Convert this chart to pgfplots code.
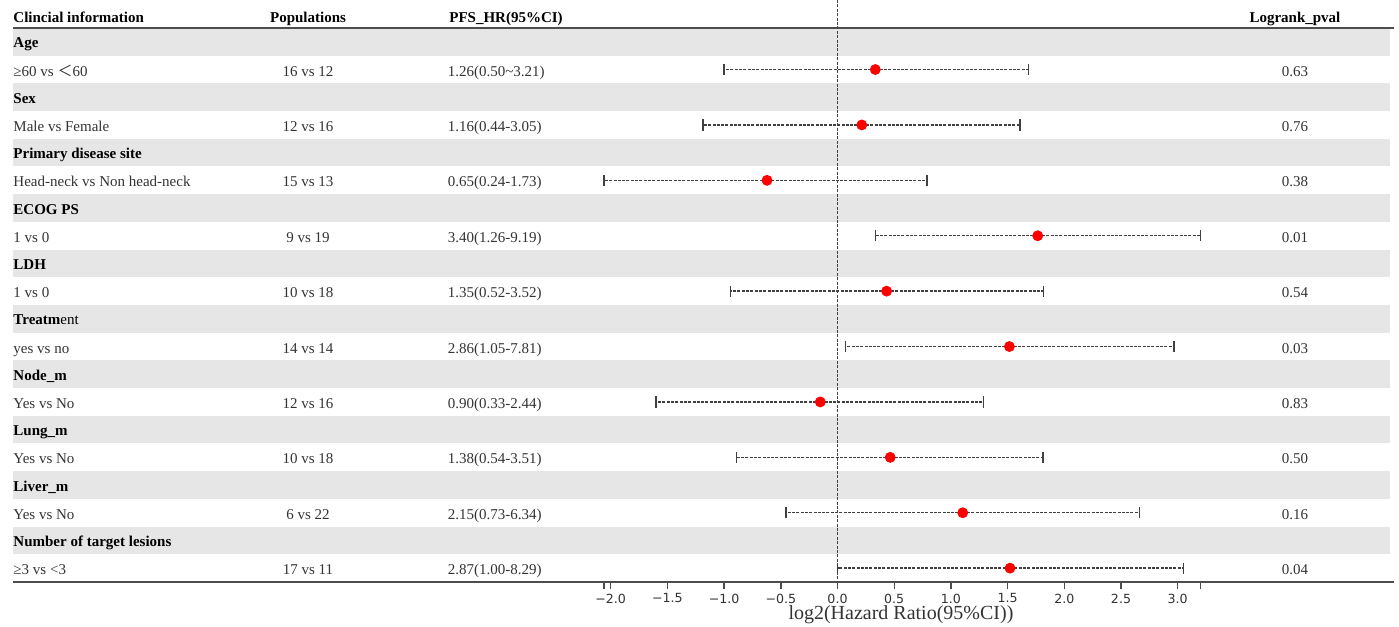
\documentclass[border=0pt]{standalone}
\usepackage{pgfplots}
\pgfplotsset{compat=1.18}
\usepackage{pgfplotstable}
\usepackage{fontspec}
\setmainfont{Liberation Serif}
\newfontfamily\dejavu{DejaVu Sans}
\newfontfamily\cjk{Noto Sans CJK SC}

% whiskers: row, log2(HR), minus, plus
\pgfplotstableread{
row  m        em      ep
-2   0.3334   1.3334  1.3492
-4   0.2141   1.3985  1.3947
-6  -0.6215   1.4374  1.4123
-8   1.7655   1.4321  1.4346
-10  0.4330   1.3764  1.3826
-12  1.5160   1.4456  1.4493
-14 -0.1520   1.4475  1.4389
-16  0.4647   1.3537  1.3468
-18  1.1043   1.5583  1.5602
-20  1.5211   1.5211  1.5303
}\whisktab

\definecolor{txt}{HTML}{333333}
\definecolor{rule}{HTML}{4D4D4D}
\definecolor{band}{HTML}{E6E6E6}

\tikzset{
  hdr/.style={inner sep=0pt, font=\fontsize{7.5}{9}\selectfont\bfseries},
  cat/.style={inner sep=0pt, anchor=base west, font=\fontsize{7.5}{9}\selectfont\bfseries},
  dl/.style={inner sep=0pt, anchor=base west, text=txt, font=\fontsize{7.5}{9}\selectfont},
  dc/.style={inner sep=0pt, anchor=base, text=txt, font=\fontsize{7.5}{9}\selectfont},
}

\begin{document}
\begin{tikzpicture}
\begin{axis}[
  at={(0,0)}, anchor=south west,
  scale only axis, width=699.5pt, height=291pt,
  xmin=-7.3854, xmax=4.9515, ymin=-20.5, ymax=0.5108,
  axis x line*=bottom, axis y line=none,
  x axis line style={draw=none},
  xtick={-2,-1.5,-1,-0.5,0,0.5,1,1.5,2,2.5,3},
  xticklabels={−2.0,−1.5,−1.0,−0.5,0.0,0.5,1.0,1.5,2.0,2.5,3.0},
  extra x ticks={-2.0589,3.2}, extra x tick labels={},
  tick align=outside, major tick length=3.5pt,
  tick style={draw=rule, line width=0.7pt},
  xticklabel style={font=\dejavu\fontsize{6.3}{7}\selectfont, text=txt, inner sep=1pt, yshift=-1.2pt},
  xlabel={log2(Hazard Ratio(95\%CI))},
  xlabel style={at={(axis description cs:0.644,0)}, anchor=north, yshift=-11.5pt, inner sep=0pt,
    font=\fontsize{10}{12}\selectfont, text=txt},
  clip=false,
]
% grey bands
\pgfplotsinvokeforeach{1,3,5,7,9,11,13,15,17,19}{
  \fill[band] (axis cs:-7.27,-#1+0.5) rectangle (axis cs:4.87,-#1-0.5);
}
% table rules
\draw[rule, line width=1pt] (axis cs:-7.27,-0.5) -- (axis cs:4.91,-0.5);
\draw[rule, line width=1pt] (axis cs:-7.27,-20.5) -- (axis cs:4.91,-20.5);
% reference line
\addplot[black!75, line width=0.7pt, dash pattern=on 1.5pt off 0.7pt] coordinates {(0,0.5108) (0,-20.5)};
% whiskers
\addplot[no markers, draw=none,
  error bars/.cd, x dir=both, x explicit, error mark=|,
  error bar style={draw=black!75, line width=0.7pt, dash pattern=on 1.5pt off 0.65pt},
  error mark options={solid, draw=black!75, line width=0.75pt, mark size=2.8pt}]
  table[x=m, y=row, x error minus=em, x error plus=ep] {\whisktab};
% points
\addplot[only marks, mark=*, mark size=2.5pt, color=red, fill=red] table[x=m, y=row] {\whisktab};

% header
\node[hdr, anchor=base west] at (axis cs:-7.27,-0.3) {Clincial information};
\node[hdr, anchor=base] at (axis cs:-4.669,-0.3) {Populations};
\node[hdr, anchor=base west] at (axis cs:-3.426,-0.3) {PFS\_HR(95\%CI)};
\node[hdr, anchor=base] at (axis cs:4.034,-0.3) {Logrank\_pval};
% categories
\node[cat] at (axis cs:-7.27,-1.22) {Age};
\node[cat] at (axis cs:-7.27,-3.22) {Sex};
\node[cat] at (axis cs:-7.27,-5.22) {Primary disease site};
\node[cat] at (axis cs:-7.27,-7.22) {ECOG PS};
\node[cat] at (axis cs:-7.27,-9.22) {LDH};
\node[cat] at (axis cs:-7.27,-11.22) {Treatm\mdseries ent};
\node[cat] at (axis cs:-7.27,-13.22) {Node\_m};
\node[cat] at (axis cs:-7.27,-15.22) {Lung\_m};
\node[cat] at (axis cs:-7.27,-17.22) {Liver\_m};
\node[cat] at (axis cs:-7.27,-19.22) {Number of target lesions};
% data rows: col1
\node[dl] at (axis cs:-7.27,-2.24) {≥60 vs {\cjk＜}60};
\node[dl] at (axis cs:-7.27,-4.24) {Male vs Female};
\node[dl] at (axis cs:-7.27,-6.24) {Head-neck vs Non head-neck};
\node[dl] at (axis cs:-7.27,-8.24) {1 vs 0};
\node[dl] at (axis cs:-7.27,-10.24) {1 vs 0};
\node[dl] at (axis cs:-7.27,-12.24) {yes vs no};
\node[dl] at (axis cs:-7.27,-14.24) {Yes vs No};
\node[dl] at (axis cs:-7.27,-16.24) {Yes vs No};
\node[dl] at (axis cs:-7.27,-18.24) {Yes vs No};
\node[dl] at (axis cs:-7.27,-20.24) {≥3 vs <3};
% col2
\node[dc] at (axis cs:-4.669,-2.24) {16 vs 12};
\node[dc] at (axis cs:-4.669,-4.24) {12 vs 16};
\node[dc] at (axis cs:-4.669,-6.24) {15 vs 13};
\node[dc] at (axis cs:-4.669,-8.24) {9 vs 19};
\node[dc] at (axis cs:-4.669,-10.24) {10 vs 18};
\node[dc] at (axis cs:-4.669,-12.24) {14 vs 14};
\node[dc] at (axis cs:-4.669,-14.24) {12 vs 16};
\node[dc] at (axis cs:-4.669,-16.24) {10 vs 18};
\node[dc] at (axis cs:-4.669,-18.24) {6 vs 22};
\node[dc] at (axis cs:-4.669,-20.24) {17 vs 11};
% col3
\node[dl] at (axis cs:-3.44,-2.24) {1.26(0.50\textasciitilde3.21)};
\node[dl] at (axis cs:-3.44,-4.24) {1.16(0.44-3.05)};
\node[dl] at (axis cs:-3.44,-6.24) {0.65(0.24-1.73)};
\node[dl] at (axis cs:-3.44,-8.24) {3.40(1.26-9.19)};
\node[dl] at (axis cs:-3.44,-10.24) {1.35(0.52-3.52)};
\node[dl] at (axis cs:-3.44,-12.24) {2.86(1.05-7.81)};
\node[dl] at (axis cs:-3.44,-14.24) {0.90(0.33-2.44)};
\node[dl] at (axis cs:-3.44,-16.24) {1.38(0.54-3.51)};
\node[dl] at (axis cs:-3.44,-18.24) {2.15(0.73-6.34)};
\node[dl] at (axis cs:-3.44,-20.24) {2.87(1.00-8.29)};
% col4
\node[dc] at (axis cs:4.034,-2.24) {0.63};
\node[dc] at (axis cs:4.034,-4.24) {0.76};
\node[dc] at (axis cs:4.034,-6.24) {0.38};
\node[dc] at (axis cs:4.034,-8.24) {0.01};
\node[dc] at (axis cs:4.034,-10.24) {0.54};
\node[dc] at (axis cs:4.034,-12.24) {0.03};
\node[dc] at (axis cs:4.034,-14.24) {0.83};
\node[dc] at (axis cs:4.034,-16.24) {0.50};
\node[dc] at (axis cs:4.034,-18.24) {0.16};
\node[dc] at (axis cs:4.034,-20.24) {0.04};
\end{axis}
\pgfresetboundingbox
\path (0,-22.5pt) rectangle (699.5pt,291pt);
\end{tikzpicture}
\end{document}
